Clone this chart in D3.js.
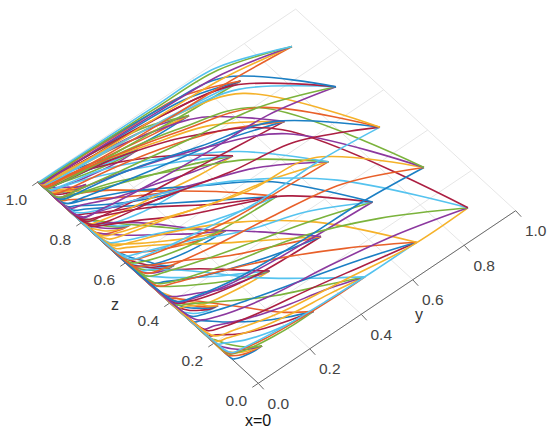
<!DOCTYPE html>
<html>
<head>
<meta charset="utf-8">
<script src="https://cdn.jsdelivr.net/npm/d3@7/dist/d3.min.js"></script>
<style>html,body{margin:0;padding:0;background:#fff}svg{display:block}</style>
</head>
<body>
<div id="chart"></div>
<script>
const tickValues = [0, 0.2, 0.4, 0.6, 0.8, 1.0];
const tickLabels = ["0.0", "0.2", "0.4", "0.6", "0.8", "1.0"];
const seriesColors = ["#1b7fc4", "#e8602a", "#f5b22a", "#8c389f", "#7bb33c", "#55c3ef", "#ac1f42"];
const yStarts = [0.1, 0.3, 0.5, 0.7, 0.9];
const zStarts = [0.1, 0.3, 0.5, 0.7, 0.9];
const yFractions = [0.75, 0.5, 0.25, 0.08, 0.02];
// every trajectory ends by running up the z axis to this point
const finalPoint = [0, 1];

// z read at the y fractions above; five rows per start z, rising z start
const zPathsY01 = [
[.1,.103,.108,.115,.12],[.103,.108,.118,.13,.135],[.106,.115,.13,.15,.155],[.11,.125,.15,.175,.185],[.115,.14,.175,.21,.22],
[.302,.31,.325,.345,.35],[.305,.32,.34,.365,.37],[.31,.33,.355,.385,.39],[.315,.34,.375,.41,.42],[.32,.36,.4,.44,.45],
[.502,.51,.525,.545,.55],[.505,.52,.54,.565,.57],[.51,.53,.555,.585,.59],[.515,.54,.575,.61,.62],[.52,.56,.6,.64,.65],
[.702,.71,.72,.74,.745],[.705,.715,.735,.76,.765],[.708,.725,.75,.775,.78],[.712,.735,.765,.79,.8],[.716,.745,.785,.815,.825],
[.902,.908,.918,.93,.935],[.904,.912,.925,.94,.945],[.906,.916,.932,.95,.955],[.908,.922,.94,.96,.965],[.91,.93,.95,.97,.975]
];
const zPathsY03 = [
[.1,.105,.115,.13,.14],[.11,.125,.15,.18,.19],[.12,.145,.18,.22,.23],[.135,.18,.24,.29,.3],[.16,.25,.34,.4,.42],
[.305,.315,.33,.36,.37],[.32,.34,.38,.41,.43],[.33,.37,.42,.46,.48],[.35,.4,.46,.51,.53],[.37,.44,.5,.56,.58],
[.505,.515,.535,.56,.575],[.52,.55,.59,.63,.645],[.535,.58,.63,.67,.69],[.55,.61,.67,.72,.74],[.57,.65,.73,.79,.81],
[.705,.715,.735,.76,.77],[.72,.745,.785,.82,.83],[.73,.77,.82,.86,.87],[.745,.795,.85,.89,.9],[.76,.83,.89,.93,.94],
[.903,.915,.93,.945,.95],[.91,.925,.945,.96,.965],[.915,.935,.955,.97,.975],[.925,.945,.965,.98,.985],[.93,.955,.975,.988,.99]
];
const zPathsY05 = [
[.1,.105,.115,.13,.14],[.12,.135,.16,.19,.2],[.14,.17,.21,.25,.26],[.16,.22,.3,.36,.38],[.2,.31,.45,.53,.55],
[.305,.315,.34,.37,.39],[.33,.37,.42,.47,.49],[.36,.42,.5,.55,.57],[.39,.48,.58,.64,.66],[.43,.55,.69,.76,.78],
[.505,.515,.54,.57,.59],[.53,.57,.63,.67,.69],[.56,.62,.7,.75,.77],[.59,.68,.77,.83,.85],[.63,.74,.85,.9,.91],
[.71,.73,.75,.77,.78],[.73,.77,.81,.85,.86],[.76,.81,.86,.9,.91],[.78,.85,.91,.94,.95],[.81,.89,.945,.97,.975],
[.905,.92,.94,.955,.96],[.915,.935,.955,.97,.975],[.925,.95,.965,.98,.985],[.94,.96,.975,.987,.99],[.95,.97,.985,.992,.995]
];
const zPathsY07 = [
[.1,.105,.115,.13,.14],[.135,.17,.2,.23,.25],[.16,.21,.26,.3,.32],[.22,.32,.4,.45,.47],[.35,.5,.6,.65,.67],
[.31,.32,.34,.37,.39],[.36,.41,.46,.5,.52],[.4,.46,.55,.6,.62],[.48,.59,.72,.78,.8],[.55,.68,.8,.86,.88],
[.51,.52,.55,.58,.6],[.56,.6,.66,.7,.72],[.62,.69,.76,.8,.81],[.66,.76,.85,.89,.9],[.7,.82,.91,.94,.95],
[.72,.74,.76,.78,.79],[.76,.8,.84,.87,.88],[.8,.86,.9,.92,.93],[.83,.89,.94,.96,.965],[.87,.93,.965,.98,.985],
[.91,.925,.94,.955,.96],[.925,.945,.96,.97,.975],[.94,.96,.97,.98,.985],[.955,.97,.98,.988,.99],[.97,.98,.988,.993,.995]
];
const zPathsY09 = [
[.1,.13,.16,.2,.22],[.16,.2,.23,.27,.3],[.24,.34,.4,.45,.48],[.43,.62,.74,.8,.83],[.68,.84,.92,.95,.96],
[.32,.325,.34,.37,.39],[.41,.45,.48,.51,.53],[.54,.57,.64,.68,.7],[.66,.78,.86,.9,.91],[.79,.88,.93,.95,.96],
[.52,.52,.55,.58,.6],[.62,.66,.72,.75,.77],[.72,.79,.86,.89,.9],[.79,.87,.93,.96,.97],[.86,.93,.96,.98,.985],
[.75,.76,.78,.8,.81],[.79,.83,.87,.9,.91],[.88,.93,.96,.975,.98],[.9,.95,.975,.985,.99],[.94,.975,.99,.995,.995],
[.92,.93,.945,.96,.965],[.94,.955,.965,.975,.98],[.955,.97,.98,.985,.985],[.975,.985,.99,.992,.992],[.985,.992,.995,.997,.997]
];
const zPathBlocks = [zPathsY01, zPathsY03, zPathsY05, zPathsY07, zPathsY09];

const width = 550, height = 431;
const svg = d3.select("#chart").append("svg").attr("width", width).attr("height", height);

// oblique projection of the (y, z) plane built from linear scales
const screenXfromZ = d3.scaleLinear().domain([0, 1]).range([258.3, 38.3]);
const screenYfromZ = d3.scaleLinear().domain([0, 1]).range([383.3, 181.7]);
const screenXfromY = d3.scaleLinear().domain([0, 1]).range([0, 257.4]);
const screenYfromY = d3.scaleLinear().domain([0, 1]).range([0, -172.6]);
const px = (y, z) => screenXfromY(y) + screenXfromZ(z);
const py = (y, z) => screenYfromY(y) + screenYfromZ(z);

const segment = (a, b) => `M${px(a[0], a[1])},${py(a[0], a[1])}L${px(b[0], b[1])},${py(b[0], b[1])}`;

// grid
const grid = svg.append("g").attr("fill", "none").attr("stroke", "#e6e6e6").attr("stroke-width", 1);
grid.selectAll(".gz").data(tickValues).join("path").attr("d", t => segment([0, t], [1, t]));
grid.selectAll(".gy").data(tickValues).join("path").attr("d", t => segment([t, 0], [t, 1]));

// axis lines and ticks
const axisColor = "#6b6b6b";
const axes = svg.append("g").attr("fill", "none").attr("stroke", axisColor).attr("stroke-width", 1);
axes.append("path").attr("d", segment([0, 0], [1, 0]));
axes.append("path").attr("d", segment([0, 0], [0, 1]));
axes.selectAll(".ty").data(tickValues).join("path")
  .attr("d", t => `M${px(t, 0)},${py(t, 0)}l5.5,6`);
axes.selectAll(".tz").data(tickValues).join("path")
  .attr("d", t => `M${px(0, t)},${py(0, t)}l-6,4`);

// trajectories
const lineGen = d3.line().x(d => px(d[0], d[1])).y(d => py(d[0], d[1])).curve(d3.curveCatmullRom.alpha(0.5));
const paths = [];
yStarts.forEach((y0, i) => {
  zStarts.forEach((z0, j) => {
    d3.range(5).forEach(k => {
      const row = zPathBlocks[i][j * 5 + k];
      const pts = [[y0, z0]].concat(row.map((z, n) => [y0 * yFractions[n], z]));
      const last = pts[pts.length - 1];
      pts.push([last[0] * 0.2, last[1] + (1 - last[1]) * 0.12]);
      pts.push(finalPoint);
      paths.push(pts);
    });
  });
});
svg.append("g").attr("fill", "none").attr("stroke-width", 1.6).attr("stroke-linejoin", "round")
  .selectAll("path").data(paths).join("path")
  .attr("stroke", (d, i) => seriesColors[i % seriesColors.length])
  .attr("d", lineGen);

// tick labels
const labels = svg.append("g").attr("font-family", "'Liberation Sans', Arial, sans-serif")
  .attr("font-size", 15.5).attr("fill", "#444").attr("text-anchor", "middle");
labels.selectAll(".ly").data(tickValues).join("text")
  .attr("x", t => px(t, 0) + 20).attr("y", t => py(t, 0) + 25.5)
  .text((t, i) => tickLabels[i]);
labels.selectAll(".lz").data(tickValues).join("text")
  .attr("x", t => px(0, t) - 22).attr("y", t => py(0, t) + 23)
  .text((t, i) => tickLabels[i]);

const names = svg.append("g").attr("font-family", "'Liberation Sans', Arial, sans-serif")
  .attr("font-size", 16).attr("fill", "#333").attr("text-anchor", "middle");
names.append("text").attr("x", 115).attr("y", 310).text("z");
names.append("text").attr("x", 419).attr("y", 320).text("y");
names.append("text").attr("x", 258).attr("y", 426).attr("fill", "#111").text("x=0");
</script>
</body>
</html>
